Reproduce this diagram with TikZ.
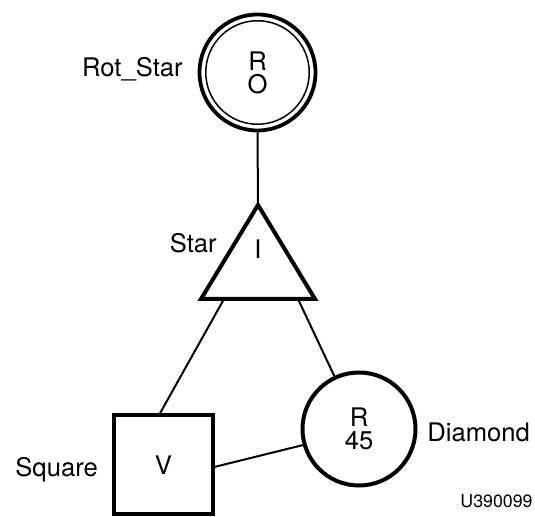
\documentclass[tikz,border=0pt]{standalone}
\usepackage{fontspec}
\setmainfont{TeX Gyre Heros}
\begin{document}
\begin{tikzpicture}[x=0.5pt, y=-0.5pt,
  every node/.style={font=\fontsize{12.8}{11.5}\selectfont},
  lbl/.style={inner sep=0pt},
  bold/.style={draw, line width=2pt},
  conn/.style={line width=1pt}]
\useasboundingbox (0,0) rectangle (535,517);

% top: double ring
\node[bold, circle, inner sep=0pt, align=center, minimum size=58pt, line width=1.9pt] (rot) at (257.5,72.5) {R\\O};
\draw[line width=0.75pt] (rot.center) circle[radius=51.75];
\node[lbl, anchor=base east] (rotlbl) at (183,77) {Rot\_Star};

% triangle
\coordinate (apex) at (258,205);
\coordinate (bl) at (201,299);
\coordinate (br) at (315,299);
\coordinate (baseL) at (224,299);
\coordinate (baseR) at (298,299);
\node[lbl] (star) at (258,249) {I};
\node[lbl, anchor=base east] (starlbl) at (217,253) {Star};

% square and circle
\node[bold, inner sep=0pt, minimum size=49.5pt] (sq) at (163.5,465) {V};
\node[lbl, anchor=base west] (sqlbl) at (15,477) {Square};
\node[bold, circle, inner sep=0pt, align=center, minimum size=56.5pt] (dia) at (359,429) {R\\45};
\node[lbl, anchor=base west] (dialbl) at (427,442) {Diamond};

\draw[conn] (rot.south) -- (apex);
\draw[conn] (baseL) -- (sq.94);
\draw[conn] (baseR) -- (dia.115);
\draw[conn] (sq.-2) -- (dia.196);
\draw[bold, line join=miter] (apex) -- (bl) -- (br) -- cycle;

\node[lbl, anchor=base west, font=\fontsize{8.9}{10}\selectfont] (fig) at (460,508) {U390099};
\end{tikzpicture}
\end{document}
